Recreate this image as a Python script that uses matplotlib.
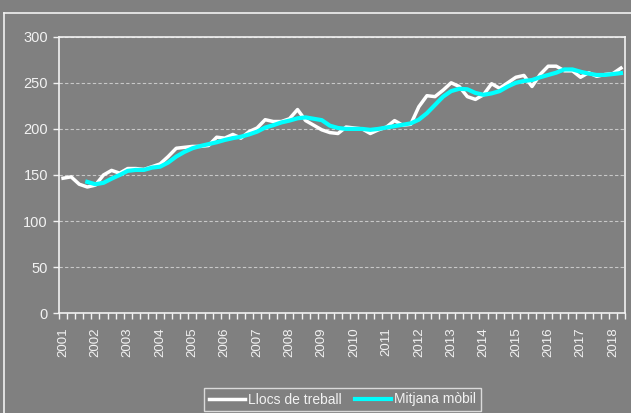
"""Llocs de treball i mitjana mòbil, trimestral 2001-2018"""

import matplotlib
matplotlib.use('Agg')
import matplotlib.pyplot as plt
from matplotlib.lines import Line2D

plt.rcParams['font.family'] = ['Liberation Sans', 'DejaVu Sans']

# Data (quarterly, 2001Q1 .. 2018Q2)
years = list(range(2001, 2019))
llocs = [146.5, 148, 140, 137, 139, 150, 155, 152, 157, 157,
         156, 159, 162, 170, 179, 180, 181, 181, 182, 191,
         190, 194, 190, 197, 201, 210, 208, 208, 211, 221,
         209, 204, 199, 196, 195, 202, 201, 200, 195, 199,
         202, 209, 204, 205, 224, 236, 235, 242, 250, 246,
         235, 232, 237, 249, 244, 250, 256, 258, 246, 259,
         268, 268, 263, 263, 256, 261, 257, 259, 260, 266]
mitjana = [None, None, None, 142.5, 140, 141.5, 146, 150, 154.5, 155.5,
           155.5, 158, 159, 163.5, 170, 175, 179, 181.5, 183.5, 185.5,
           188, 190, 191.5, 194, 197, 201.5, 204, 207, 209, 211.5,
           212.5, 211, 209.5, 203.5, 201, 200, 200, 200, 199, 200,
           201.5, 203, 204.5, 206, 210, 217, 226, 235, 241, 243.5,
           243, 239, 237, 238.5, 241, 246, 250, 252, 253, 256,
           258.5, 261, 264.5, 264.5, 262, 260, 258.5, 258.5, 259.5, 260.5]

BG = '#808080'
FG = '#f2f2f2'

fig = plt.figure(figsize=(6.31, 4.13), dpi=100, facecolor=BG)
ax = fig.add_axes([59 / 631, 1 - 313.3 / 413, (625 - 59) / 631, (313.3 - 36.7) / 413])
ax.set_facecolor(BG)

x = list(range(len(llocs)))
ax.plot(x, llocs, color='white', lw=2.5, label='Llocs de treball', zorder=3)
ax.plot(x, [v if v is not None else float('nan') for v in mitjana],
        color='#00ffff', lw=3.0, label='Mitjana mòbil', zorder=4)

# Axes
ax.set_ylim(0, 300)
ax.set_yticks(range(0, 301, 50))
ax.set_xlim(-0.5, len(llocs) - 0.5)
ax.set_xticks([k - 0.5 for k in range(len(llocs) + 1)])
ax.set_xticklabels([])
ax.set_xticks([4 * k for k in range(len(years))], minor=True)
ax.set_xticklabels([str(y) for y in years], minor=True, rotation=90)

ax.tick_params(axis='x', which='major', length=4, width=1, color=FG, direction='out')
ax.tick_params(axis='x', which='minor', length=0, pad=10, labelsize=9.5, labelcolor=FG)
ax.tick_params(axis='y', length=4, width=1, color=FG, labelsize=10.5, labelcolor=FG, pad=4)

ax.grid(axis='y', color='#c8c8c8', ls=(0, (3, 2)), lw=0.8)
ax.set_axisbelow(True)
for side in ax.spines.values():
    side.set_color(FG)
    side.set_linewidth(1.2)

# Outer chart border (left and top only visible)
fig.add_artist(Line2D([3.5 / 631, 3.5 / 631], [0, 1 - 13 / 413], color=FG, lw=1.2))
fig.add_artist(Line2D([3.5 / 631, 1], [1 - 13 / 413, 1 - 13 / 413], color=FG, lw=1.2))

leg = fig.legend(loc='center', bbox_to_anchor=(342.5 / 631, 1 - 399.5 / 413),
                 ncol=2, frameon=True, fancybox=False, fontsize=10,
                 handlelength=2.6, handletextpad=0.2, columnspacing=1.0,
                 borderpad=0.35, labelcolor=FG)
leg.get_frame().set_facecolor(BG)
leg.get_frame().set_edgecolor(FG)
leg.get_frame().set_linewidth(1.0)

fig.savefig('out.png', dpi=100, facecolor=BG)
